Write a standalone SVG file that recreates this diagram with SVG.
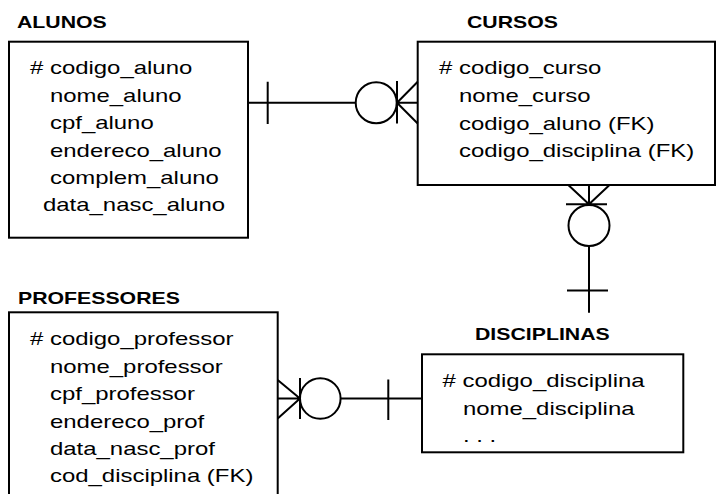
<svg xmlns="http://www.w3.org/2000/svg" width="716" height="494" viewBox="0 0 716 494">
<style>
.box{fill:#fff;stroke:#000;stroke-width:2}
.h{font-family:"Liberation Sans",Arial,sans-serif;font-size:16px;font-weight:bold;fill:#000}
.t{font-family:"Liberation Sans",Arial,sans-serif;font-size:18px;fill:#000}
.c{stroke:#000;stroke-width:2;fill:none}
.o{stroke:#000;stroke-width:2;fill:#fff}
</style>
<rect width="716" height="494" fill="#fff"/>
<g id="alunos">
<text class="h" transform="translate(17 27.5) scale(1.33 1)">ALUNOS</text>
<rect class="box" x="9" y="41.7" width="239" height="196"/>
<text class="t" transform="translate(30 74) scale(1.33 1)"># codigo_aluno</text>
<text class="t" transform="translate(50 101.5) scale(1.33 1)">nome_aluno</text>
<text class="t" transform="translate(50 129) scale(1.33 1)">cpf_aluno</text>
<text class="t" transform="translate(50 156.5) scale(1.33 1)">endereco_aluno</text>
<text class="t" transform="translate(50 183.5) scale(1.33 1)">complem_aluno</text>
<text class="t" transform="translate(43 211) scale(1.33 1)">data_nasc_aluno</text>
</g>
<g id="cursos">
<text class="h" transform="translate(467 28) scale(1.33 1)">CURSOS</text>
<rect class="box" x="417.7" y="41.7" width="297.3" height="143.3"/>
<text class="t" transform="translate(439 74.3) scale(1.33 1)"># codigo_curso</text>
<text class="t" transform="translate(459 102) scale(1.33 1)">nome_curso</text>
<text class="t" transform="translate(459 129.7) scale(1.33 1)">codigo_aluno (FK)</text>
<text class="t" transform="translate(459 157.3) scale(1.33 1)">codigo_disciplina (FK)</text>
</g>
<g id="professores">
<text class="h" transform="translate(18 304.3) scale(1.33 1)">PROFESSORES</text>
<rect class="box" x="9" y="312.3" width="268.7" height="200"/>
<text class="t" transform="translate(30 345) scale(1.33 1)"># codigo_professor</text>
<text class="t" transform="translate(50 372.5) scale(1.33 1)">nome_professor</text>
<text class="t" transform="translate(50 400.3) scale(1.33 1)">cpf_professor</text>
<text class="t" transform="translate(50 428) scale(1.33 1)">endereco_prof</text>
<text class="t" transform="translate(50 455.3) scale(1.33 1)">data_nasc_prof</text>
<text class="t" transform="translate(50 482.3) scale(1.33 1)">cod_disciplina (FK)</text>
</g>
<g id="disciplinas">
<text class="h" transform="translate(475 340) scale(1.33 1)">DISCIPLINAS</text>
<rect class="box" x="422" y="354.3" width="261.3" height="98"/>
<text class="t" transform="translate(442.5 386.7) scale(1.33 1)"># codigo_disciplina</text>
<text class="t" transform="translate(463 414.5) scale(1.33 1)">nome_disciplina</text>
<text class="t" transform="translate(463 442) scale(1.33 1)">. . .</text>
</g>
<g id="connectors">
<!-- ALUNOS - CURSOS -->
<path class="c" d="M248 102.7H355.7M396.7 102.7H417.7M267.7 81.7V124M397 81V123.5M397 102.7L417.7 81.7M397 102.7L417.7 123.5"/>
<circle class="o" cx="376.2" cy="102.7" r="20.5"/>
<!-- CURSOS - DISCIPLINAS -->
<path class="c" d="M589 185V204.3M568.3 185L589 204.3M609.5 185L589 204.3M566 204.3H607M589 246V312.7M567 290.5H608"/>
<circle class="o" cx="589" cy="225.5" r="20.5"/>
<!-- PROFESSORES - DISCIPLINAS -->
<path class="c" d="M277.7 398.5H300M277.7 380L300 398.5M277.7 418.5L300 398.5M300 378V419M340.6 398.5H422M388.3 379.5V420"/>
<circle class="o" cx="320.3" cy="398.5" r="20.3"/>
</g>
</svg>
